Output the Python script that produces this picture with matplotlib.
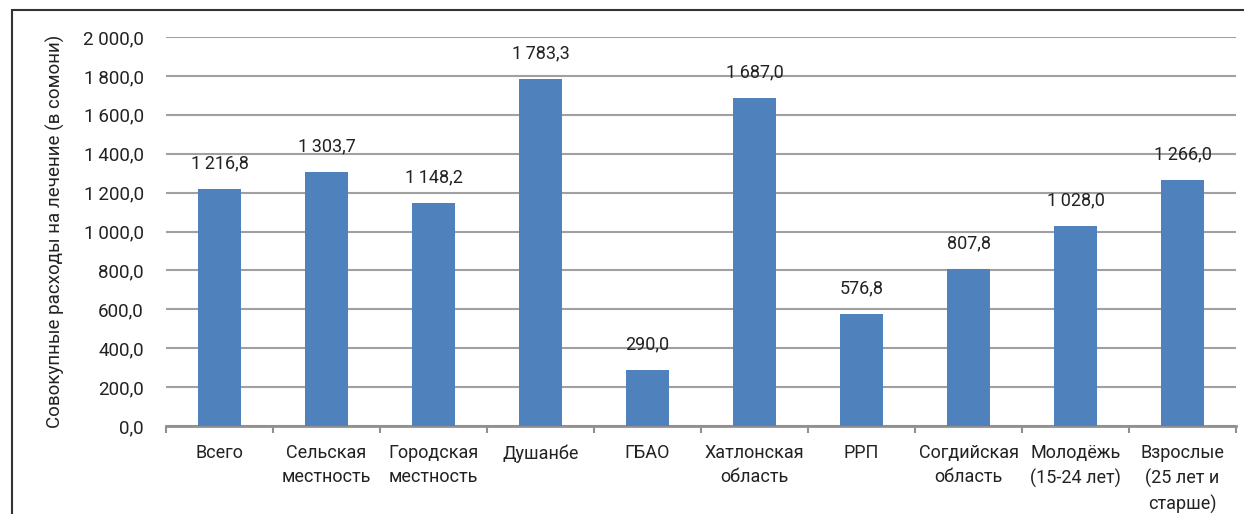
import matplotlib
matplotlib.use("Agg")
import matplotlib.pyplot as plt
from matplotlib.patches import Rectangle
from matplotlib.ticker import FuncFormatter

categories = ["Всего", "Сельская\nместность", "Городская\nместность", "Душанбе", "ГБАО",
              "Хатлонская\nобласть", "РРП", "Согдийская\nобласть", "Молодёжь\n(15-24 лет)",
              "Взрослые\n(25 лет и\nстарше)"]
values = [1216.8, 1303.7, 1148.2, 1783.3, 290.0, 1687.0, 576.8, 807.8, 1028.0, 1266.0]
yticks = [0, 200, 400, 600, 800, 1000, 1200, 1400, 1600, 1800, 2000]
ylabel = "Совокупные расходы на лечение (в сомони)"

plt.rcParams['font.family'] = ['Roboto', 'DejaVu Sans']

def fmt(v, sep="\u2009"):
    return f"{v:,.1f}".replace(",", sep).replace(".", ",")

W, H = 1244, 514
fig = plt.figure(figsize=(W / 100, H / 100), dpi=100)
ax = fig.add_axes([166 / W, 1 - 426 / H, (1236 - 166) / W, (426 - 37) / H])

x = list(range(len(categories)))
ax.bar(x, values, width=0.4, color="#4F81BD", zorder=3)
ax.set_xlim(-0.5, len(categories) - 0.5)
ax.set_ylim(0, 2000)
ax.set_yticks(yticks)
ax.yaxis.set_major_formatter(FuncFormatter(lambda v, p: fmt(v, " " if v >= 2000 else "\u2009")))
ax.grid(axis="y", color="#A0A0A0", linewidth=1.5, zorder=0)
ax.tick_params(axis="y", length=0, labelsize=13.5, colors="#222222", pad=16)
for s in ["top", "right", "left"]:
    ax.spines[s].set_visible(False)
ax.spines["bottom"].set_color("#909090")
ax.spines["bottom"].set_linewidth(2)
ax.set_xticks([i - 0.5 for i in range(len(categories) + 1)], minor=False)
ax.set_xticklabels([])
ax.tick_params(axis="x", length=5, width=1.5, color="#909090")
ax.set_xticks(x, minor=True)
ax.set_xticklabels(categories, minor=True, fontsize=13, color="#222222", linespacing=1.45)
ax.tick_params(axis="x", which="minor", length=0, pad=13)

for xi, v in zip(x, values):
    ax.annotate(fmt(v), (xi, v), xytext=(0, 12), textcoords="offset points",
                ha="center", va="bottom", fontsize=13, color="#222222")

ax.set_ylabel(ylabel, fontsize=13.5, color="#222222")
ax.yaxis.set_label_coords(-(166 - 55) / (1236 - 166), 0.5)
ax.yaxis.label.set_va("center")

fig.patches.append(Rectangle((12 / W, -0.1), 1.2, 1 - 10 / H + 0.1, transform=fig.transFigure,
                             fill=False, edgecolor="#333333", linewidth=1.5))

fig.savefig("out.png", dpi=100)
